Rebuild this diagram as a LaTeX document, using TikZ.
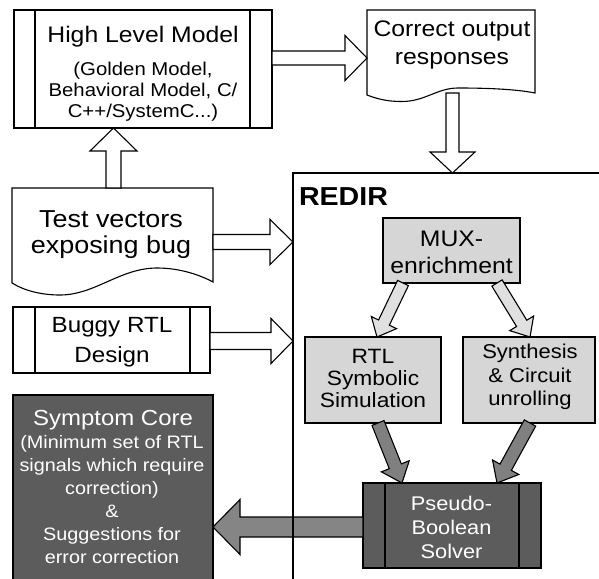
\documentclass[tikz,border=0pt]{standalone}
\usepackage{fontspec}
\setmainfont[FakeStretch=1.1]{Liberation Sans}
\usetikzlibrary{calc}
\newcommand\fs[2]{\fontsize{#1}{#2}\selectfont}
\newcommand\blockarr[6]{%
  \coordinate (bahead) at ($(#2)!#5!(#1)$);
  \draw[arrline, fill=#6] ($(#1)!#3!90:(#2)$) -- ($(bahead)!#3!90:(#2)$) -- ($(bahead)!#4!90:(#2)$) -- (#2) -- ($(bahead)!#4!-90:(#2)$) -- ($(bahead)!#3!-90:(#2)$) -- ($(#1)!#3!-90:(#2)$) -- cycle;}
\definecolor{lightbox}{gray}{0.84}
\definecolor{lightarr}{gray}{0.88}
\definecolor{darkarr}{gray}{0.50}
\definecolor{darkbox}{gray}{0.36}
\definecolor{bigarr}{gray}{0.52}
\begin{document}
\begin{tikzpicture}[x=1pt,y=-1pt,
  boxline/.style={draw=black, line width=1.1pt},
  arrline/.style={draw=black, line width=1.1pt, line join=miter},
  rect/.style={draw=black, line width=1.1pt, inner sep=0pt, outer sep=0pt},
  ghost/.style={inner sep=0pt, outer sep=0pt},
  txt/.style={inner sep=0pt, outer sep=0pt, align=center},
  wtxt/.style={inner sep=0pt, outer sep=0pt, align=center, text=white}]
\useasboundingbox (0,0) rectangle (599,578);
\clip (0,0) rectangle (599,578);
\fill[white] (0,0) rectangle (599,578);

% ghost node for REDIR frame (drawn last)
\node[ghost, minimum width=347pt, minimum height=467pt] (redir) at (466.5,406.5) {};

% High level model
\node[rect, fill=white, minimum width=258pt, minimum height=118pt] (hlm) at (143,69) {};
\draw[boxline] ($(hlm.north west)+(21,0)$) -- ($(hlm.south west)+(21,0)$);
\draw[boxline] ($(hlm.north east)+(-22,0)$) -- ($(hlm.south east)+(-22,0)$);
\node[txt, anchor=base, font=\fs{22.5}{26}] (hlmt) at (143,42) {High Level Model};
\node[txt, font=\fs{18.5}{21}] (hlms) at (143,92) {(Golden Model,\\Behavioral Model, C/\\C++/SystemC...)};

% Correct output responses (document shape)
\node[ghost, minimum width=168pt, minimum height=84pt] (cor) at (451,52) {};
\draw[boxline, fill=white] (535,93) -- (535,10) -- (367,10) -- (367,95)
  .. controls (380,100) and (390,101.5) .. (402,101.5)
  .. controls (425,101.5) and (437,88) .. (458,88)
  .. controls (485,88) and (515,89) .. (535,93) -- cycle;
\node[txt, font=\fs{22.5}{28}] (cort) at (452,45) {Correct output\\responses};

% Test vectors (document shape)
\node[ghost, minimum width=201pt, minimum height=92pt] (tv) at (112.5,234) {};
\draw[boxline, fill=white] (213,282) -- (213,188) -- (12,188) -- (12,283)
  .. controls (25,291) and (42,295) .. (60,295)
  .. controls (95,295) and (120,268) .. (157,268)
  .. controls (180,268) and (200,275) .. (213,282) -- cycle;
\node[txt, font=\fs{24.5}{25.5}] (tvt) at (111,234.5) {Test vectors\\exposing bug};

% Buggy RTL design
\node[rect, fill=white, minimum width=197pt, minimum height=66pt] (bug) at (111.5,340) {};
\draw[boxline] ($(bug.north west)+(22,0)$) -- ($(bug.south west)+(22,0)$);
\draw[boxline] ($(bug.north east)+(-20,0)$) -- ($(bug.south east)+(-20,0)$);
\node[txt, font=\fs{22}{30}] (bugt) at (112,342.5) {Buggy RTL\\Design};

% Symptom core
\node[rect, fill=darkbox, minimum width=200pt, minimum height=245pt] (sc) at (113,517.5) {};
\node[wtxt, anchor=base, font=\fs{21.8}{24}] (sct) at (113,425) {Symptom Core};
\node[wtxt, font=\fs{18}{23}] (scs) at (112,500) {(Minimum set of RTL\\signals which require\\correction)\\\&\\Suggestions for\\error correction};

% REDIR contents
\node[txt, anchor=base west, font=\fs{26}{30}\bfseries] (redirt) at (299,205) {REDIR};
\node[rect, fill=lightbox, minimum width=137pt, minimum height=65pt] (mux) at (451.5,250.5) {};
\node[txt, font=\fs{22.5}{27}] (muxt) at (451.5,252) {MUX-\\enrichment};
\node[rect, fill=lightbox, minimum width=136pt, minimum height=86pt] (rtl) at (373,380) {};
\node[txt, font=\fs{20.7}{22}] (rtlt) at (373,378) {RTL\\Symbolic\\Simulation};
\node[rect, fill=lightbox, minimum width=132pt, minimum height=86pt] (syn) at (529,380) {};
\node[txt, font=\fs{20}{23.5}] (synt) at (530,377) {Synthesis\\\& Circuit\\unrolling};
\node[rect, fill=darkbox, minimum width=178pt, minimum height=85pt] (pbs) at (452,525.5) {};
\draw[boxline] ($(pbs.north west)+(22,0)$) -- ($(pbs.south west)+(22,0)$);
\draw[boxline] ($(pbs.north east)+(-22,0)$) -- ($(pbs.south east)+(-22,0)$);
\node[wtxt, font=\fs{19.8}{24}] (pbst) at (451.5,527) {Pseudo-\\Boolean\\Solver};

% connectors
\coordinate (a1s) at ($(hlm.north east)+(0,48)$);
\coordinate (a1e) at (a1s -| cor.west);
\blockarr{a1s}{a1e}{7pt}{22.5pt}{22pt}{white}

\coordinate (a2s) at ($(cor.south)+(1.5,-1)$);
\coordinate (a2e) at (a2s |- redir.north);
\blockarr{a2s}{a2e}{6.5pt}{22.5pt}{21pt}{white}

\coordinate (a3s) at ($(tv.north)+(1,0)$);
\coordinate (a3e) at (a3s |- hlm.south);
\blockarr{a3s}{a3e}{7.5pt}{23.5pt}{23pt}{white}

\coordinate (a4s) at ($(tv.east)+(0,8)$);
\coordinate (a4e) at (a4s -| redir.west);
\blockarr{a4s}{a4e}{7.5pt}{22.5pt}{23pt}{white}

\coordinate (a5s) at ($(bug.east)+(0,1)$);
\coordinate (a5e) at (a5s -| redir.west);
\blockarr{a5s}{a5e}{8.5pt}{22.5pt}{22pt}{white}

\coordinate (a6s) at ($(pbs.west)+(0,1.5)$);
\coordinate (a6e) at (a6s -| sc.east);
\blockarr{a6s}{a6e}{10pt}{27.5pt}{27pt}{bigarr}

\coordinate (a7s) at ($(mux.south west)+(20,0)$);
\coordinate (a7e) at ($(rtl.north west)+(72,0)$);
\blockarr{a7s}{a7e}{6pt}{14pt}{16pt}{lightarr}

\coordinate (a8s) at ($(mux.south west)+(114,0)$);
\coordinate (a8e) at ($(syn.north west)+(67,0)$);
\blockarr{a8s}{a8e}{6pt}{14pt}{16pt}{lightarr}

\coordinate (a9s) at ($(rtl.south west)+(73,0)$);
\coordinate (a9e) at ($(pbs.north west)+(39,0)$);
\blockarr{a9s}{a9e}{6.5pt}{15pt}{18pt}{darkarr}

\coordinate (a10s) at ($(syn.south west)+(67,0)$);
\coordinate (a10e) at ($(pbs.north west)+(134,0)$);
\blockarr{a10s}{a10e}{6.5pt}{15pt}{18pt}{darkarr}

% REDIR frame
\draw[boxline] (redir.south west) -- (redir.north west) -- (redir.north east);
\end{tikzpicture}
\end{document}
